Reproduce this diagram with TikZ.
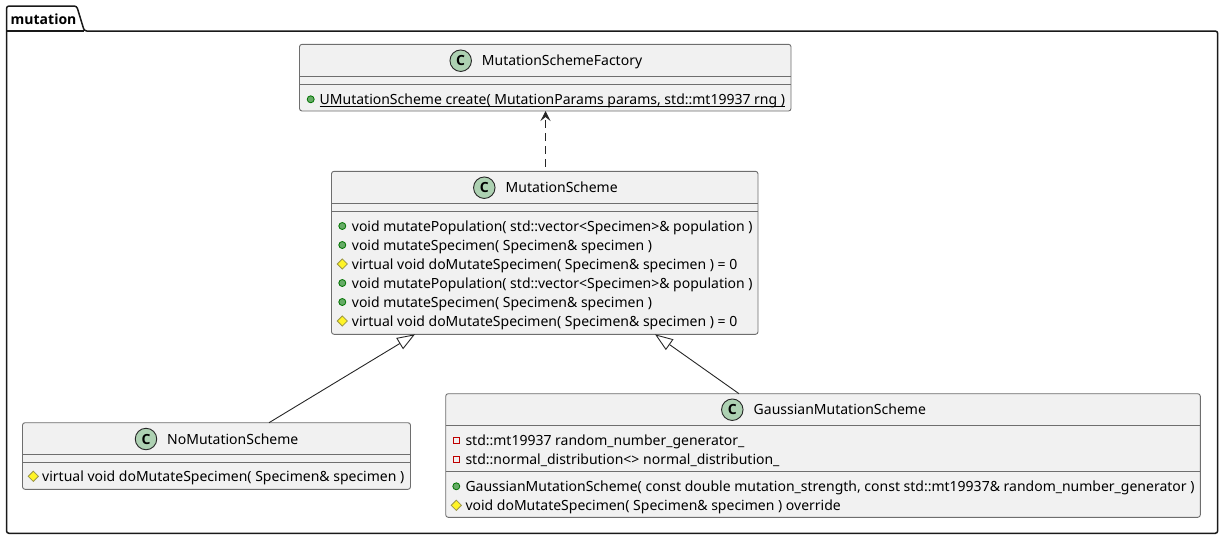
\documentclass[tikz,border=0pt]{standalone}
\usepackage{fontspec}
\setmainfont{Noto Sans}
\newfontfamily\headfont{Open Sans}
\usetikzlibrary{arrows.meta,shapes.geometric}
\definecolor{boxfill}{HTML}{F1F1F1}
\definecolor{boxline}{HTML}{6E6E6E}
\definecolor{iconfill}{HTML}{ADD1B2}
\tikzset{
  classbox/.style={draw=boxline, fill=boxfill, rounded corners=2.5pt, line width=0.9pt, inner sep=0pt, outer sep=0pt},
  sepline/.style={draw=boxline, line width=0.9pt},
  icon/.style={circle, draw=black!85, fill=iconfill, line width=0.9pt, minimum size=21.5pt, inner sep=0pt, font=\fontsize{14}{14}\headfont\bfseries},
  titletext/.style={anchor=base west, inner sep=0pt, font=\fontsize{14}{14}\selectfont},
  membertext/.style={anchor=base west, inner sep=0pt, font=\fontsize{14}{14}\selectfont},
  pubmark/.style={circle, draw=green!45!black, fill=green!45!black!60, line width=0.8pt, minimum size=7pt, inner sep=0pt},
  protmark/.style={diamond, aspect=1, draw=yellow!55!black, fill=yellow!85, line width=0.8pt, minimum size=10.5pt, inner sep=0pt},
  privmark/.style={rectangle, draw=red!75!black, fill=none, line width=0.8pt, minimum size=6.5pt, inner sep=0pt},
  dep/.style={draw=black!85, line width=0.9pt, dash pattern=on 7.5pt off 5.5pt, dash phase=8.4pt, -{Stealth[length=10pt, width=10pt, inset=4pt]}},
  inherit/.style={draw=black!85, line width=0.9pt, -{Triangle[open, fill=white, length=18pt, width=13pt]}}
}
\begin{document}
\begin{tikzpicture}[x=1pt, y=-1pt]
\useasboundingbox (0,0) rectangle (1223,539);
% package
\draw[black!90, line width=1.5pt, rounded corners=2.5pt] (6.5,31) -- (6.5,6) -- (76.7,6) -- (84.3,31) -- (1217.7,31) -- (1217.7,533.3) -- (6.5,533.3) -- cycle;
\draw[black!90, line width=1.5pt] (6.5,31) -- (84.3,31);
\node[anchor=base west, inner sep=0pt, font=\fontsize{14}{14}\headfont\bfseries] (packageName) at (10.5,24) {mutation};
% factory
\node[classbox, minimum width=491.5pt, minimum height=66.7pt] (factory) at (545.25,77.65) {};
\draw[sepline] ([yshift=-32pt]factory.north west) -- ([yshift=-32pt]factory.north east);
\draw[sepline] ([yshift=-40pt]factory.north west) -- ([yshift=-40pt]factory.north east);
\node[icon] (factoryIcon) at (460.7,60.7) {C};
\node[titletext] (factoryTitle) at (481.7,65.7) {MutationSchemeFactory};
\node[pubmark] (factoryOpMark) at (310.7,99.3) {};
\node[membertext] (factoryOp) at (319.5,104.3) {UMutationScheme create( MutationParams params, std::mt19937 rng )};
\draw[black, line width=1pt] ([yshift=-2.3pt]factoryOp.base west) -- ([yshift=-2.3pt]factoryOp.base east);
% scheme
\node[classbox, minimum width=426.5pt, minimum height=163pt] (scheme) at (544.75,252.8) {};
\draw[sepline] ([yshift=-32pt]scheme.north west) -- ([yshift=-32pt]scheme.north east);
\draw[sepline] ([yshift=-40pt]scheme.north west) -- ([yshift=-40pt]scheme.north east);
\node[icon] (schemeIcon) at (484.3,187.7) {C};
\node[titletext] (schemeTitle) at (505.5,192.7) {MutationScheme};
\node[pubmark] (schemeOpAMark) at (342.3,226) {};
\node[membertext] (schemeOpA) at (351.7,231) {void mutatePopulation( std::vector<Specimen>\& population )};
\node[pubmark] (schemeOpBMark) at (342.3,245) {};
\node[membertext] (schemeOpB) at (351.7,250) {void mutateSpecimen( Specimen\& specimen )};
\node[protmark] (schemeOpCMark) at (342.3,264) {};
\node[membertext] (schemeOpC) at (351.7,269) {virtual void doMutateSpecimen( Specimen\& specimen ) = 0};
\node[pubmark] (schemeOpDMark) at (342.3,283) {};
\node[membertext] (schemeOpD) at (351.7,288) {void mutatePopulation( std::vector<Specimen>\& population )};
\node[pubmark] (schemeOpEMark) at (342.3,302) {};
\node[membertext] (schemeOpE) at (351.7,307) {void mutateSpecimen( Specimen\& specimen )};
\node[protmark] (schemeOpFMark) at (342.3,321) {};
\node[membertext] (schemeOpF) at (351.7,326) {virtual void doMutateSpecimen( Specimen\& specimen ) = 0};
% no mutation
\node[classbox, minimum width=388pt, minimum height=66.6pt] (nomut) at (216.5,456) {};
\draw[sepline] ([yshift=-32pt]nomut.north west) -- ([yshift=-32pt]nomut.north east);
\draw[sepline] ([yshift=-40pt]nomut.north west) -- ([yshift=-40pt]nomut.north east);
\node[icon] (nomutIcon) at (146,439) {C};
\node[titletext] (nomutTitle) at (167,444) {NoMutationScheme};
\node[protmark] (nomutOpMark) at (33.3,476.3) {};
\node[membertext] (nomutOp) at (42,481.3) {virtual void doMutateSpecimen( Specimen\& specimen )};
% gaussian
\node[classbox, minimum width=754.6pt, minimum height=123.6pt] (gauss) at (823,455.5) {};
\draw[sepline] ([yshift=-31.6pt]gauss.north west) -- ([yshift=-31.6pt]gauss.north east);
\draw[sepline] ([yshift=-77.3pt]gauss.north west) -- ([yshift=-77.3pt]gauss.north east);
\node[icon] (gaussIcon) at (732.3,409.7) {C};
\node[titletext] (gaussTitle) at (753.5,414.7) {GaussianMutationScheme};
\node[privmark] (gaussFieldAMark) at (456.3,440.3) {};
\node[membertext] (gaussFieldA) at (465.3,445.3) {std::mt19937 random\_number\_generator\_};
\node[privmark] (gaussFieldBMark) at (456.3,459.3) {};
\node[membertext] (gaussFieldB) at (465.3,464.3) {std::normal\_distribution<> normal\_distribution\_};
\node[pubmark] (gaussOpAMark) at (456.3,486.3) {};
\node[membertext] (gaussOpA) at (465.3,491.3) {GaussianMutationScheme( const double mutation\_strength, const std::mt19937\& random\_number\_generator )};
\node[protmark] (gaussOpBMark) at (456.3,505.3) {};
\node[membertext] (gaussOpB) at (465.3,510.3) {void doMutateSpecimen( Specimen\& specimen ) override};
% connectors
\draw[dep] ([xshift=.75pt]scheme.north) -- ([xshift=.25pt]factory.south);
\draw[inherit] ([xshift=52.5pt]nomut.north) -- ([xshift=-129.75pt]scheme.south);
\draw[inherit] ([xshift=-84pt]gauss.north) -- ([xshift=110.25pt]scheme.south);
\end{tikzpicture}
\end{document}
